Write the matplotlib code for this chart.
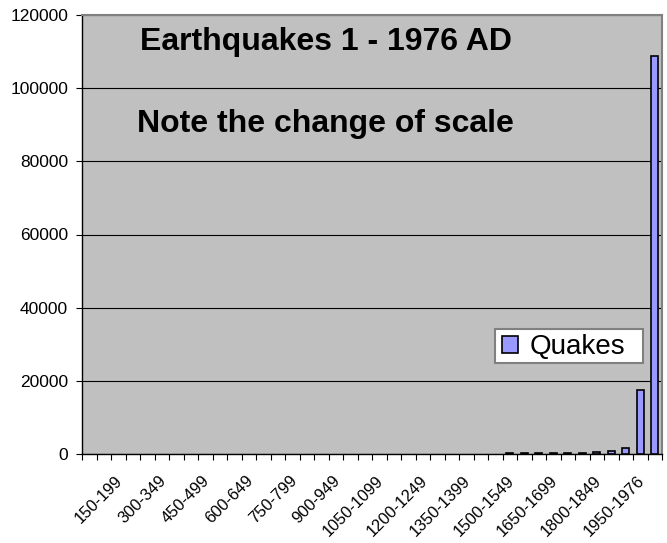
import numpy as np
import matplotlib
matplotlib.use("Agg")
from matplotlib import pyplot as plt
from matplotlib import transforms
from matplotlib.patches import Rectangle

# 50-year bins, 1 AD to 1976
bins = ["1-49", "50-99", "100-149", "150-199", "200-249", "250-299",
        "300-349", "350-399", "400-449", "450-499", "500-549", "550-599",
        "600-649", "650-699", "700-749", "750-799", "800-849", "850-899",
        "900-949", "950-999", "1000-1049", "1050-1099", "1100-1149",
        "1150-1199", "1200-1249", "1250-1299", "1300-1349", "1350-1399",
        "1400-1449", "1450-1499", "1500-1549", "1550-1599", "1600-1649",
        "1650-1699", "1700-1749", "1750-1799", "1800-1849", "1850-1899",
        "1900-1949", "1950-1976"]

quakes = [0, 0, 0, 0, 0, 0, 0, 0, 0, 0,
          0, 0, 0, 0, 0, 0, 0, 0, 0, 0,
          0, 0, 0, 0, 0, 0, 0, 0, 0, 350,
          350, 350, 400, 400, 400, 650, 900, 1700, 17500, 108800]

y_ticks = [0, 20000, 40000, 60000, 80000, 100000, 120000]
y_labels = ["0", "20000", "40000", "60000", "80000", "100000", "120000"]

shown = list(range(3, 40, 3))

plt.rcParams['font.family'] = ['Liberation Sans', 'DejaVu Sans']

fig = plt.figure(figsize=(6.67, 5.43), dpi=100)
ax = fig.add_axes([82 / 667, 1 - 454 / 543, 580 / 667, 439 / 543])
ax.set_facecolor("#C0C0C0")

x = np.arange(len(bins))
vals = np.array(quakes, dtype=float)
nz = vals > 0  # empty bins draw nothing
ax.bar(x[nz], vals[nz], width=0.5, color="#9999FF", edgecolor="black",
       linewidth=1.2, label="Quakes", zorder=3)

ax.set_xlim(-0.5, len(bins) - 0.5)
ax.set_ylim(0, 120000)

# gridlines
ax.yaxis.grid(True, color="black", linewidth=0.8)
ax.set_axisbelow(True)

ax.set_yticks(y_ticks)
ax.set_yticklabels(y_labels)
ax.tick_params(axis="y", length=4, width=0.8, pad=6, labelsize=12.5)

ax.set_xticks(shown)
ax.set_xticklabels([bins[i] for i in shown], rotation=45, ha="right",
                   va="center", rotation_mode="anchor")
ax.set_xticks(np.arange(-0.5, len(bins), 1), minor=True)
ax.tick_params(axis="x", which="major", length=0, pad=17.5, labelsize=11.8)
ax.tick_params(axis="x", which="minor", length=4, width=0.8)
shift = transforms.ScaledTranslation(-0.125, 0, fig.dpi_scale_trans)
for lbl in ax.get_xticklabels():
    lbl.set_transform(lbl.get_transform() + shift)

for s in ["top", "right"]:
    ax.spines[s].set_color("#808080")
    ax.spines[s].set_linewidth(1.5)
for s in ["left", "bottom"]:
    ax.spines[s].set_color("black")
    ax.spines[s].set_linewidth(1.0)

fig.text(0.4885, 1 - 50 / 543, "Earthquakes 1 - 1976 AD", ha="center",
         va="baseline", fontsize=23, fontweight="bold")
fig.text(0.4885, 1 - 132 / 543, "Note the change of scale", ha="center",
         va="baseline", fontsize=23, fontweight="bold")

# legend box drawn by hand, legend itself without frame
box = Rectangle((495 / 667, 1 - 363 / 543), 148 / 667, 34 / 543,
                transform=fig.transFigure, facecolor="white",
                edgecolor="#808080", linewidth=1.5, zorder=4, clip_on=False)
ax.add_patch(box)
leg = ax.legend(loc="center left", bbox_to_anchor=(502 / 667, 1 - 347 / 543),
                bbox_transform=fig.transFigure, fontsize=20, frameon=False,
                borderaxespad=0, borderpad=0, handlelength=0.58,
                handleheight=0.58, handletextpad=0.43)

fig.savefig("out.png", dpi=100)
